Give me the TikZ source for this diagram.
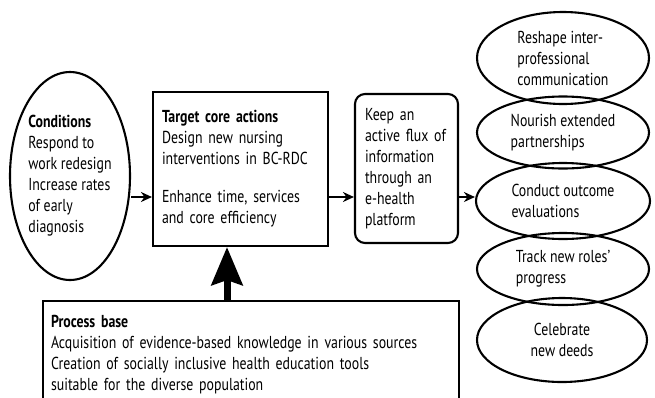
\documentclass[tikz,border=0pt]{standalone}
\usepackage{fontspec}
\setmainfont{PT Sans}[FakeStretch=0.8]
\usepackage{tikz}
\usetikzlibrary{arrows.meta,shapes,calc}
\tikzstyle{every stage} = []
\tikzstyle{stage} = [rectangle, draw, black, line width=2.1pt,
inner sep=0pt, align=left,
font=\fontsize{17.3}{21}\selectfont,
every stage]
\tikzstyle{platform} = [stage, rounded corners=10pt]
\tikzstyle{bubble} = [stage, ellipse]
\tikzstyle{link} = [-{Stealth[length=11pt,width=10pt]}, line width=1.9pt]
\tikzstyle{lift} = [-{Stealth[length=38pt,width=31pt,inset=5pt]}, line width=7pt]

\begin{document}
\begin{tikzpicture}[x=1pt,y=-1pt]
	\useasboundingbox (0,0) rectangle (655,397);
	\coordinate (flow) at (0,197);
	\node[bubble, minimum width=120pt, minimum height=208pt] (cond) at (70,176){\textbf{Conditions}\\
		Respond to\\
		work redesign\\
		Increase rates\\
		of early\\
		diagnosis};
	\node[stage, text width=157pt, minimum width=175pt, minimum height=154pt] (target) at (240.5,169){\textbf{Target core actions}\\
		Design new nursing\\
		interventions in BC-RDC\\[17pt]
		Enhance time, services\\
		and core efficiency};
	\node[platform, text width=83pt, minimum width=103pt, minimum height=149pt] (ehealth) at (406.5,168.5){Keep an\\
		active flux of\\
		information\\
		through an\\
		e-health\\
		platform};
	\draw[link] (cond.east |- flow) -- (target.west |- flow);
	\draw[link] (target.east |- flow) -- (ehealth.west |- flow);

	% outcomes, top to bottom
	\node[bubble, minimum width=172pt, minimum height=92pt] (reshape) at (563,58){Reshape inter-\\
		professional\\
		communication};
	\node[bubble, minimum width=172pt, minimum height=72pt] (nourish) at (563,132.5){Nourish extended\\
		partnerships};
	\node[bubble, minimum width=174pt, minimum height=76pt] (conduct) at (563,201){Conduct outcome\\
		evaluations};
	\node[bubble, minimum width=172pt, minimum height=72pt] (track) at (563,269){Track new roles’\\
		progress};
	\node[bubble, align=center, minimum width=170pt, minimum height=84pt] (celebrate) at (562,340){Celebrate\\
		new deeds};
	\draw[link] (ehealth.east |- flow) -- (conduct.west |- flow);

	% runs off the bottom of the page
	\node[stage, anchor=north west, text width=400pt, inner xsep=8pt, inner ysep=14pt] (process) at (42,300){\textbf{Process base}\\
		Acquisition of evidence-based knowledge in various sources\\
		Creation of socially inclusive health education tools\\
		suitable for the diverse population\\
		\mbox{}};
	\coordinate (push) at (227,300);
	\draw[lift] (push) -- (push |- target.south);
\end{tikzpicture}
\end{document}
